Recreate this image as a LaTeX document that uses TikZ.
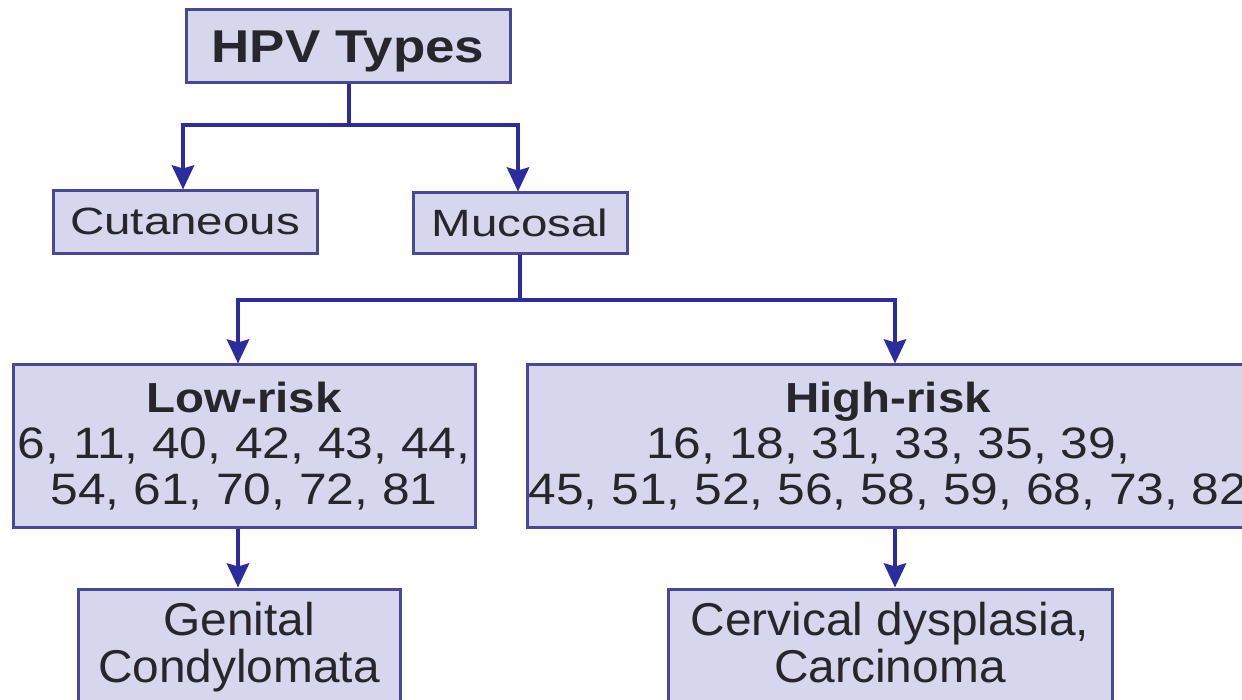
\documentclass[tikz,border=0pt]{standalone}
\usepackage{fontspec}
\setmainfont{Liberation Sans}
\newfontfamily\fHead[FakeStretch=1.15]{Liberation Sans}
\newfontfamily\fMid[FakeStretch=1.25]{Liberation Sans}
\newfontfamily\fRisk[FakeStretch=1.13]{Liberation Sans}
\newfontfamily\fBot[FakeStretch=1.04]{Liberation Sans}
\usetikzlibrary{arrows.meta}
\definecolor{boxfill}{RGB}{214,214,236}
\definecolor{boxline}{RGB}{72,72,150}
\definecolor{arrowblue}{RGB}{44,44,158}
\definecolor{txt}{RGB}{38,38,44}
\newcommand\lst{\vrule width 0pt height 34pt depth 10pt\relax}
\begin{document}
\begin{tikzpicture}[x=1pt,y=-1pt,
  box/.style={draw=boxline, line width=3pt, fill=boxfill, text=txt, inner sep=0pt, align=center},
  link/.style={draw=arrowblue, line width=4.5pt},
  arr/.style={link, -{Stealth[length=24pt,width=22pt,inset=3pt]}},
  riskfont/.style={font=\fRisk\fontsize{44}{46}\selectfont},
  botfont/.style={font=\fBot\fontsize{46}{47}\selectfont}
]
\useasboundingbox (0,0) rectangle (1242,700);
\clip (0,0) rectangle (1242,700);
\fill[white] (0,0) rectangle (1242,700);

\node[box, minimum width=324pt, minimum height=73pt, font=\fHead\bfseries\fontsize{46}{55}\selectfont, text height=40pt, text depth=7pt] (hpv) at (348,46.5) {HPV Types};

\node[box, minimum width=264pt, minimum height=63pt, font=\fMid\fontsize{38}{46}\selectfont, text height=30pt, text depth=5pt] (cut) at (185,222.5) {Cutaneous};
\node[box, minimum width=214pt, minimum height=61pt, font=\fMid\fontsize{38}{46}\selectfont, text height=31pt, text depth=4pt] (muc) at (520,223.5) {Mucosal};

\node[box, riskfont, minimum width=462pt, minimum height=162pt] (low) at (244,446)
  {\lst{\bfseries\fontsize{42}{46}\selectfont Low-risk}\\\lst 6, 11, 40, 42, 43, 44,\\\lst 54, 61, 70, 72, 81};
\node[box, riskfont, minimum width=722pt, minimum height=162pt] (high) at (888,446)
  {\lst{\bfseries\fontsize{42}{46}\selectfont High-risk}\\\lst 16, 18, 31, 33, 35, 39,\\\lst 45, 51, 52, 56, 58, 59, 68, 73, 82};

\node[box, botfont, minimum width=322pt, minimum height=115pt] (gen) at (239,646.5)
  {\lst Genital\\\lst Condylomata};
\node[box, botfont, minimum width=444pt, minimum height=115pt] (cer) at (890,646.5)
  {\lst Cervical dysplasia,\\\lst Carcinoma};

\coordinate (j1) at (349,125);
\draw[link] (hpv.south -| j1) -- (j1);
\draw[arr] (j1) -| ([xshift=-2pt]cut.north);
\draw[arr] (j1) -| ([xshift=-2pt]muc.north);

\coordinate (j2) at (520,300);
\draw[link] (muc.south) -- (j2);
\draw[arr] (j2) -| ([xshift=-6pt]low.north);
\draw[arr] (j2) -| ([xshift=7pt]high.north);

\draw[arr] ([xshift=-6pt]low.south) -- ([xshift=-1pt]gen.north);
\draw[arr] ([xshift=7pt]high.south) -- ([xshift=7pt]high.south |- cer.north);
\end{tikzpicture}
\end{document}
